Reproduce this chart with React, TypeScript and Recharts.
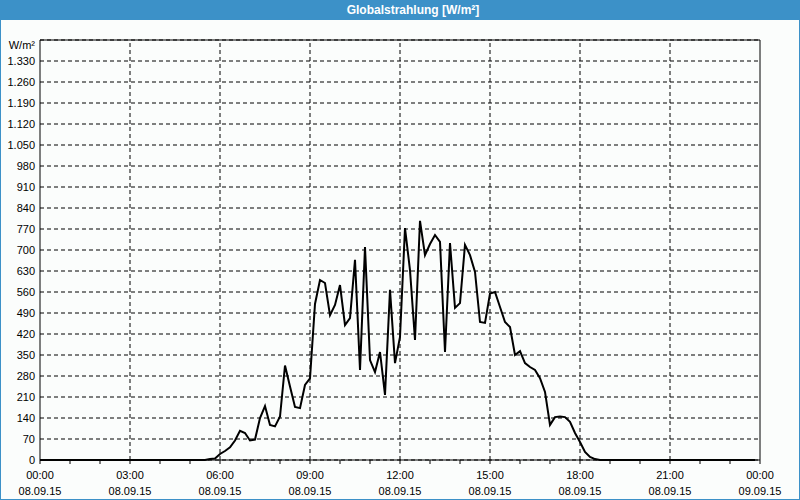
import * as React from 'react';
import { LineChart, Line, XAxis, YAxis, CartesianGrid, ReferenceLine } from 'recharts';

// 10-minute samples, 00:00 .. 23:50
const minutes = Array.from({ length: 144 }, (_, i) => i * 10);

const radiation = [
  0, 0, 0, 0, 0, 0, 0, 0, 0, 0, 0, 0, 0, 0, 0, 0, 0, 0,
  0, 0, 0, 0, 0, 0, 0, 0, 0, 0, 0, 0, 0, 0, 0, 0, 3, 5,
  20, 30, 42, 65, 97, 90, 65, 68, 140, 180, 117, 112, 145, 315, 245, 177,
  173, 250, 272, 520, 600, 590, 483, 517, 583, 450, 473, 667, 300, 710, 333, 293,
  360, 217, 567, 323, 410, 773, 633, 400, 797, 683, 720, 750, 727, 360, 723, 507,
  523, 717, 683, 627, 460, 457, 555, 560, 510, 460, 443, 350, 363, 323, 310, 300,
  273, 227, 117, 143, 145, 143, 127, 90, 60, 27, 10, 3, 0, 0, 0, 0,
  0, 0, 0, 0, 0, 0, 0, 0, 0, 0, 0, 0, 0, 0, 0, 0, 0, 0,
  0, 0, 0, 0, 0, 0, 0, 0, 0, 0, 0, 0, 0, 0, 0, 0,
];

const hourTicks = [
  0, 60, 120, 180, 240, 300, 360, 420, 480, 540, 600, 660, 720,
  780, 840, 900, 960, 1020, 1080, 1140, 1200, 1260, 1320, 1380, 1440,
];
const majorTicks = [0, 180, 360, 540, 720, 900, 1080, 1260, 1440];
const timeLabels = ['00:00', '03:00', '06:00', '09:00', '12:00', '15:00', '18:00', '21:00', '00:00'];
const dateLabels = ['08.09.15', '08.09.15', '08.09.15', '08.09.15', '08.09.15', '08.09.15', '08.09.15', '08.09.15', '09.09.15'];

const yTicks = [
  0, 70, 140, 210, 280, 350, 420, 490, 560, 630, 700,
  770, 840, 910, 980, 1050, 1120, 1190, 1260, 1330,
];

const data = minutes.map((m, i) => ({ min: m, value: radiation[i] }));

const BLUE = '#3c91c8';
const FONT = '"Liberation Sans", Arial, sans-serif';

const fmtY = (v: number) => (v >= 1000 ? `${Math.floor(v / 1000)}.${String(v % 1000).padStart(3, '0')}` : `${v}`);

function TimeTick(props: any) {
  const { x, payload } = props;
  const idx = majorTicks.indexOf(payload.value);
  if (idx < 0) return null;
  return (
    <g>
      <text x={x} y={479} textAnchor="middle" fontSize={11} fontFamily={FONT} fill="#000">
        {timeLabels[idx]}
      </text>
      <text x={x} y={495} textAnchor="middle" fontSize={11} fontFamily={FONT} fill="#000">
        {dateLabels[idx]}
      </text>
    </g>
  );
}

export default function App() {
  return (
    <div style={{ position: 'relative', width: 800, height: 500, background: '#fbfdfc', fontFamily: FONT }}>
      <style>{'body{margin:0}'}</style>
      <LineChart
        width={800}
        height={500}
        data={data}
        margin={{ top: 40, right: 40, left: 0, bottom: 0 }}
        style={{ position: 'absolute', left: 0, top: 0 }}
      >
        <CartesianGrid horizontal={true} vertical={false} stroke="#000" strokeDasharray="4 3" />
        {majorTicks.slice(1, -1).map((t) => (
          <ReferenceLine key={t} x={t} stroke="#000" strokeDasharray="4 3" />
        ))}
        <ReferenceLine y={1400} stroke="#000" />
        <ReferenceLine x={1440} stroke="#000" />
        <XAxis
          type="number"
          dataKey="min"
          domain={[0, 1440]}
          ticks={hourTicks}
          interval={0}
          height={40}
          tickSize={4}
          tickMargin={0}
          stroke="#000"
          tickLine={{ stroke: '#000' }}
          tick={<TimeTick />}
        />
        <YAxis
          type="number"
          domain={[0, 1400]}
          ticks={yTicks}
          interval={0}
          width={40}
          tickSize={0}
          tickMargin={5}
          stroke="#000"
          tickFormatter={fmtY}
          tick={{ fill: '#000', fontSize: 11, fontFamily: FONT }}
        />
        <Line
          type="linear"
          dataKey="value"
          stroke="#000"
          strokeWidth={2}
          dot={false}
          isAnimationActive={false}
        />
      </LineChart>
      <div
        style={{
          position: 'absolute', left: 0, top: 0, width: 800, height: 20, background: BLUE,
          color: '#fff', fontWeight: 'bold', fontSize: 12, lineHeight: '20px',
        }}
      >
        <span style={{ position: 'absolute', left: 413, transform: 'translateX(-50%)', whiteSpace: 'nowrap' }}>
          Globalstrahlung [W/m²]
        </span>
      </div>
      <div style={{ position: 'absolute', right: 765, top: 39, fontSize: 11, color: '#000', whiteSpace: 'nowrap' }}>
        W/m²
      </div>
      <div
        style={{
          position: 'absolute', left: 0, top: 0, width: 800, height: 500,
          border: `1px solid ${BLUE}`, boxSizing: 'border-box', pointerEvents: 'none',
        }}
      />
    </div>
  );
}
